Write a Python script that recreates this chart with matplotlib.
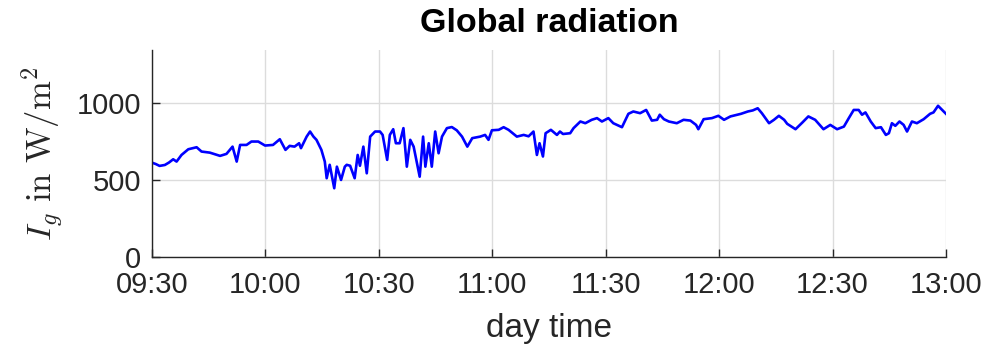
import matplotlib
matplotlib.use("Agg")
import matplotlib.pyplot as plt

# minutes after 09:30
minutes = [0, 1, 2, 3.4, 4.5, 5.6, 6.5, 7.8, 9.6, 11.8, 13.1, 15.3, 18, 19.7, 21.3, 22.4, 23.3, 25,
           26.3, 28.1, 29.9, 32, 33.8, 35.3, 36.4, 37.7, 38.9, 39.4, 40.9, 41.8, 42.7, 43.5, 44.8,
           45.7, 46.2, 47, 48.2, 48.9, 50, 51, 51.5, 52.4, 53.6, 54.4, 55, 55.9, 56.8, 57.7, 59,
           60.3, 61, 62.2, 62.9, 63.8, 64.5, 65.5, 66.5, 67.4, 68.3, 69.2, 70.8, 71.7, 72.3, 73.2,
           74, 74.9, 75.8, 76.7, 78, 79.3, 80.6, 82, 83.4, 84.7, 86.8, 88.1, 89, 89.9, 91.7, 93,
           94.3, 96.5, 98.3, 99.6, 100.9, 101.8, 102.5, 103.4, 104.1, 105.5, 107.1, 107.9, 108.7,
           110.6, 111.5, 113.3, 114.6, 116.3, 117.7, 119, 120.7, 122, 124.3, 126, 127.3, 129.1,
           130.7, 132.2, 133.6, 134.3, 135.4, 136.7, 138.8, 140.6, 142.4, 143.9, 144.5, 145.9,
           148.1, 149.8, 151.3, 153, 155.8, 157.6, 158.9, 160.2, 161.3, 163.2, 164.5, 165.8, 167.2,
           168, 170.2, 172, 173.6, 175.4, 177.6, 179.4, 181.2, 183, 184.3, 185.6, 186.9, 187.8,
           188.7, 190.1, 191.4, 192.8, 194.1, 194.9, 195.7, 196.6, 197.7, 198.8, 199.7, 201, 202.3,
           204.1, 205.8, 206.7, 207.9, 209, 210]
radiation = [614, 605, 593, 599, 615, 636, 621, 664, 701, 714, 686, 679, 658, 671, 718, 621, 729, 729,
             751, 751, 725, 729, 766, 697, 723, 718, 740, 708, 783, 816, 783, 762, 697,
             621, 513, 600, 448, 588, 502, 588, 600, 594, 513, 664, 594, 718, 545, 783, 816,
             816, 794, 632, 794, 831, 740, 740, 838, 588, 762, 718, 523, 783, 588, 740,
             588, 816, 675, 783, 838, 845, 824, 783, 718, 773, 783, 794, 762, 824, 827, 844,
             827, 783, 794, 785, 816, 664, 740, 654, 805, 827, 794, 816, 800,
             805, 838, 881, 870, 892, 903, 881, 903, 870, 844, 931, 946, 935,
             956, 887, 892, 925, 896, 881, 870, 892, 887, 859, 831, 896,
             903, 918, 892, 914, 931, 946, 953, 967, 935, 870, 892, 918, 892,
             866, 831, 874, 914, 892, 831, 859, 831, 848, 903, 956, 956, 925,
             940, 881, 838, 844, 794, 805, 870, 853, 881, 859, 816, 881, 870,
             896, 931, 940, 983, 956, 931]

xtick_pos = [0, 30, 60, 90, 120, 150, 180, 210]
xtick_labels = ["09:30", "10:00", "10:30", "11:00", "11:30", "12:00", "12:30", "13:00"]
ytick_pos = [0, 500, 1000]

plt.rcParams['font.family'] = ['Liberation Sans', 'DejaVu Sans']
plt.rcParams['mathtext.fontset'] = 'cm'

fig = plt.figure(figsize=(9.89, 3.55), dpi=100)
ax = fig.add_axes([0.1537, 0.2752, 0.8028, 0.584])

dark = '#262626'
ax.plot(minutes, radiation, color='#0000ff', lw=1.9)
ax.set_xlim(0, 210)
ax.set_ylim(0, 1345)
ax.set_xticks(xtick_pos)
ax.set_xticklabels(xtick_labels)
ax.set_yticks(ytick_pos)
ax.grid(True, color='#dcdcdc', lw=1.0)
ax.set_axisbelow(True)
for s in ['top', 'right']:
    ax.spines[s].set_visible(False)
for s in ['left', 'bottom']:
    ax.spines[s].set_color(dark)
    ax.spines[s].set_linewidth(1.0)
ax.tick_params(direction='in', length=6, width=1.0, colors=dark, labelsize=21)
ax.tick_params(axis='x', pad=10)
ax.tick_params(axis='y', pad=8)

ax.set_title("Global radiation", fontsize=24.5, fontweight='bold', color='black', pad=13)
ax.set_xlabel("day time", fontsize=24, color=dark, labelpad=10)
ax.set_ylabel(r"$I_g\ \mathrm{in\ W/m^2}$", fontsize=25, color=dark, labelpad=8)

fig.savefig("out.png", dpi=100)
